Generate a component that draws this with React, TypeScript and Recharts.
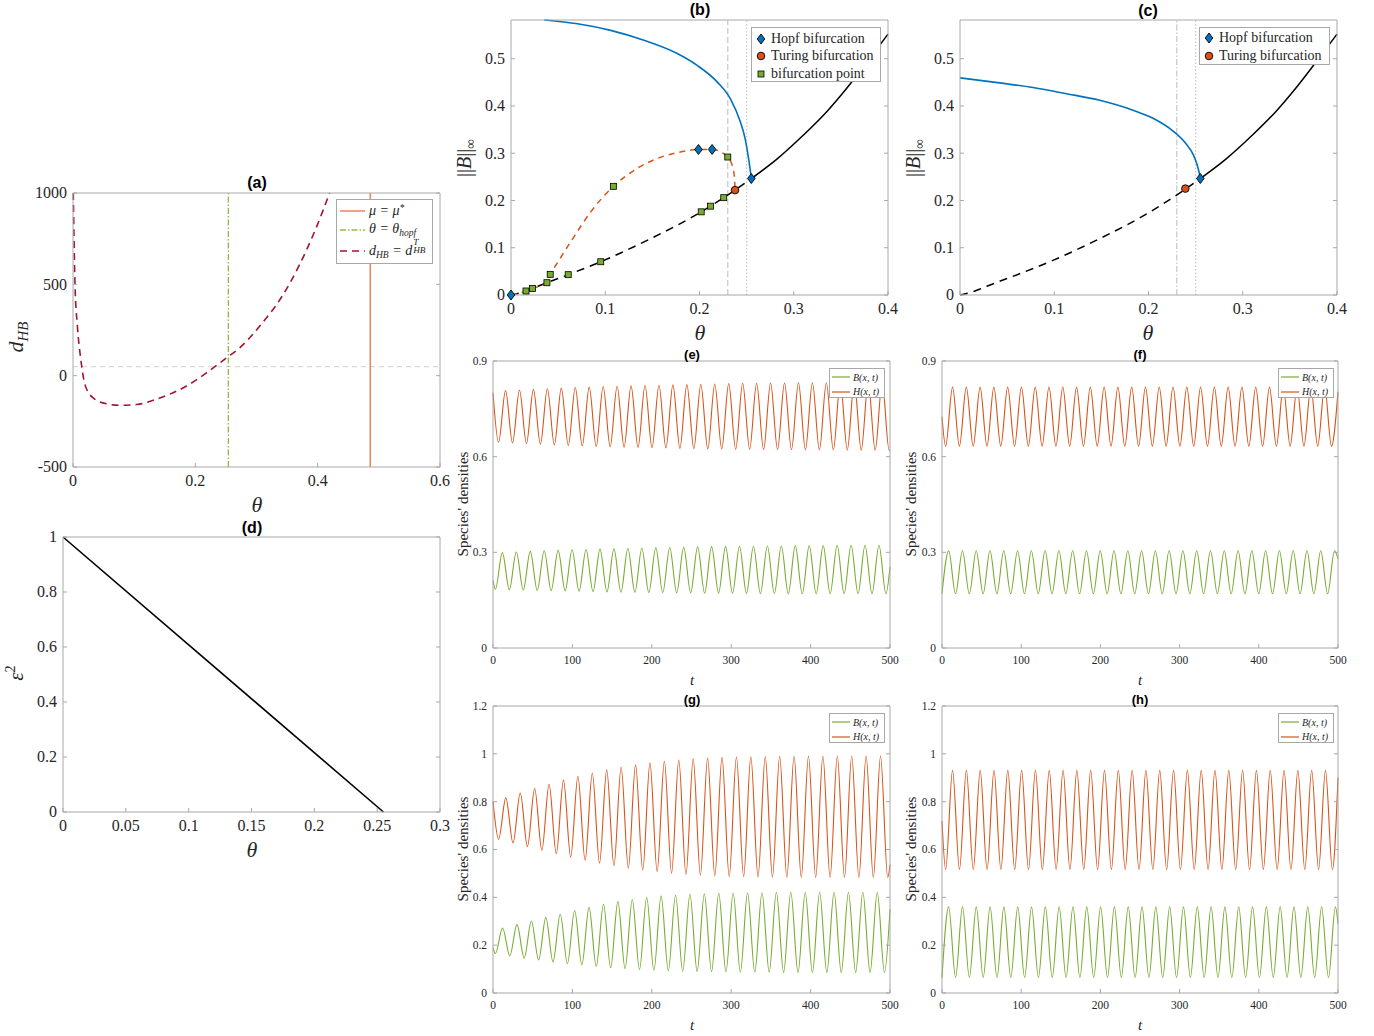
import React from 'react';
import { LineChart, Line, XAxis, YAxis, ReferenceLine } from 'recharts';

type Pt = [number, number];
type Box = { x0: number; y0: number; x1: number; y1: number };

const SERIF = 'Liberation Serif, DejaVu Serif, serif';
const SANS = 'Liberation Sans, Arial, sans-serif';
const FRAME = '#a8a8a8';
const INK = '#262626';
const BLUE = '#0072BD';
const ORANGE = '#D95319';
const GREEN = '#77AC30';
const CRIMSON = '#A2142F';

// ---------- (a) d_HB against theta ----------
const dHBCurve: Pt[] = [
  [0.0005, 1000], [0.0016, 768], [0.0033, 496], [0.007, 278], [0.0125, 96], [0.0196, -49],
  [0.033, -122], [0.055, -154], [0.0766, -162], [0.104, -158], [0.142, -122], [0.185, -58],
  [0.218, 15], [0.2505, 96], [0.272, 151], [0.305, 270], [0.343, 441], [0.37, 605],
  [0.397, 805], [0.4195, 1000],
];
const thetaHopfA = 0.254;
const thetaMuStar = 0.486;
const dHBThreshold = 50;

// ---------- (b), (c) bifurcation diagrams ----------
const limitCycleB: Pt[] = [
  [0.0353, 0.582], [0.0705, 0.574], [0.1058, 0.56], [0.1411, 0.539], [0.1764, 0.511],
  [0.1975, 0.486], [0.2187, 0.451], [0.2328, 0.415], [0.2434, 0.366], [0.2485, 0.33],
  [0.2516, 0.295], [0.2538, 0.265], [0.255, 0.2465],
];
const turingBranchB: Pt[] = [
  [0, 0], [0.0159, 0.0085], [0.0229, 0.014], [0.0381, 0.026], [0.0416, 0.0437], [0.0476, 0.063],
  [0.0635, 0.113], [0.0847, 0.176], [0.1086, 0.23], [0.134, 0.268], [0.1623, 0.294],
  [0.1834, 0.304], [0.1989, 0.308], [0.2134, 0.308], [0.224, 0.301], [0.23, 0.292],
  [0.2356, 0.268], [0.2374, 0.239], [0.2377, 0.222],
];
const unstableSteady: Pt[] = [
  [0, 0], [0.0159, 0.0085], [0.0229, 0.014], [0.0381, 0.026], [0.0607, 0.043], [0.0952, 0.0704],
  [0.15, 0.121], [0.2018, 0.176], [0.2116, 0.188], [0.2257, 0.206], [0.2377, 0.222], [0.255, 0.2465],
];
const stableSteady: Pt[] = [
  [0.255, 0.2465], [0.2818, 0.287], [0.31, 0.338], [0.335, 0.388], [0.356, 0.437],
  [0.3774, 0.492], [0.4, 0.552],
];
const limitCycleC: Pt[] = [
  [0, 0.4596], [0.0421, 0.449], [0.0775, 0.439], [0.1129, 0.426], [0.1482, 0.412],
  [0.1836, 0.391], [0.2048, 0.374], [0.226, 0.347], [0.2402, 0.319], [0.2475, 0.297],
  [0.2515, 0.276], [0.2538, 0.259], [0.255, 0.2465],
];
const hopfPointsB: Pt[] = [[0, 0], [0.1989, 0.308], [0.2134, 0.308], [0.255, 0.2465]];
const turingPointsB: Pt[] = [[0.2377, 0.222]];
const branchPointsB: Pt[] = [
  [0.0159, 0.0085], [0.0229, 0.014], [0.0381, 0.026], [0.0416, 0.0437], [0.0607, 0.043],
  [0.0952, 0.0704], [0.1086, 0.23], [0.2018, 0.176], [0.2116, 0.188], [0.2257, 0.206], [0.23, 0.292],
];
const hopfPointsC: Pt[] = [[0.255, 0.2465]];
const turingPointsC: Pt[] = [[0.2391, 0.2252]];
const thetaDashed = 0.23;
const thetaDotted = 0.25;

// ---------- (d) epsilon^2 ----------
const eps2Line: Pt[] = [[0, 1], [0.255, 0]];

// ---------- (e)-(h) time series: extrema ----------
const eHTroughs = [0.645, 0.643, 0.641, 0.639, 0.637, 0.635, 0.634, 0.632, 0.631, 0.63, 0.629, 0.628, 0.627, 0.626, 0.625, 0.624, 0.624, 0.623, 0.623, 0.622, 0.622, 0.622, 0.621, 0.621, 0.621, 0.621, 0.62, 0.62, 0.62];
const eHPeaks = [0.807, 0.809, 0.811, 0.813, 0.815, 0.817, 0.818, 0.82, 0.821, 0.822, 0.823, 0.824, 0.825, 0.826, 0.827, 0.828, 0.829, 0.83, 0.83, 0.831, 0.831, 0.832, 0.832, 0.832, 0.833, 0.833, 0.833, 0.833];
const eBTroughs = [0.184, 0.183, 0.182, 0.181, 0.18, 0.179, 0.178, 0.177, 0.176, 0.175, 0.175, 0.174, 0.174, 0.173, 0.173, 0.172, 0.172, 0.172, 0.171, 0.171, 0.171, 0.17, 0.17, 0.17, 0.17, 0.17, 0.17, 0.17, 0.17];
const eBPeaks = [0.299, 0.301, 0.303, 0.305, 0.306, 0.308, 0.309, 0.31, 0.311, 0.312, 0.313, 0.314, 0.315, 0.316, 0.317, 0.318, 0.318, 0.319, 0.319, 0.32, 0.32, 0.321, 0.321, 0.321, 0.322, 0.322, 0.322, 0.322];

const fHTroughs = [0.633, 0.633, 0.633, 0.633, 0.633, 0.633, 0.633, 0.633, 0.633, 0.633, 0.633, 0.633, 0.633, 0.633, 0.633, 0.633, 0.633, 0.633, 0.633, 0.633, 0.633, 0.633, 0.633, 0.633, 0.633, 0.633, 0.633, 0.633, 0.633];
const fHPeaks = [0.818, 0.818, 0.818, 0.818, 0.818, 0.818, 0.818, 0.818, 0.818, 0.818, 0.818, 0.818, 0.818, 0.818, 0.818, 0.818, 0.818, 0.818, 0.818, 0.818, 0.818, 0.818, 0.818, 0.818, 0.818, 0.818, 0.818, 0.818];
const fBPeaks = [0.305, 0.305, 0.305, 0.305, 0.305, 0.305, 0.305, 0.305, 0.305, 0.305, 0.305, 0.305, 0.305, 0.305, 0.305, 0.305, 0.305, 0.305, 0.305, 0.305, 0.305, 0.305, 0.305, 0.305, 0.305, 0.305, 0.305, 0.305, 0.305];
const fBTroughs = [0.17, 0.17, 0.17, 0.17, 0.17, 0.17, 0.17, 0.17, 0.17, 0.17, 0.17, 0.17, 0.17, 0.17, 0.17, 0.17, 0.17, 0.17, 0.17, 0.17, 0.17, 0.17, 0.17, 0.17, 0.17, 0.17, 0.17, 0.17];

const gHTroughs = [0.643, 0.627, 0.612, 0.597, 0.582, 0.568, 0.555, 0.543, 0.532, 0.522, 0.514, 0.507, 0.501, 0.496, 0.492, 0.489, 0.487, 0.486, 0.485, 0.484, 0.484, 0.483, 0.483, 0.483, 0.483, 0.483, 0.483, 0.483];
const gHPeaks = [0.816, 0.836, 0.855, 0.873, 0.89, 0.906, 0.92, 0.933, 0.944, 0.954, 0.962, 0.969, 0.974, 0.978, 0.982, 0.985, 0.987, 0.988, 0.989, 0.99, 0.99, 0.991, 0.991, 0.991, 0.991, 0.991, 0.991];
const gBTroughs = [0.165, 0.155, 0.146, 0.138, 0.13, 0.123, 0.117, 0.111, 0.106, 0.102, 0.098, 0.095, 0.093, 0.091, 0.09, 0.089, 0.088, 0.087, 0.087, 0.087, 0.086, 0.086, 0.086, 0.086, 0.086, 0.086, 0.086, 0.086];
const gBPeaks = [0.272, 0.286, 0.301, 0.315, 0.329, 0.345, 0.358, 0.371, 0.382, 0.391, 0.399, 0.405, 0.409, 0.413, 0.415, 0.417, 0.418, 0.419, 0.42, 0.421, 0.421, 0.421, 0.421, 0.421, 0.421, 0.421, 0.421];

const hHTroughs = [0.516, 0.516, 0.516, 0.516, 0.516, 0.516, 0.516, 0.516, 0.516, 0.516, 0.516, 0.516, 0.516, 0.516, 0.516, 0.516, 0.516, 0.516, 0.516, 0.516, 0.516, 0.516, 0.516, 0.516, 0.516, 0.516, 0.516, 0.516, 0.516];
const hHPeaks = [0.931, 0.931, 0.931, 0.931, 0.931, 0.931, 0.931, 0.931, 0.931, 0.931, 0.931, 0.931, 0.931, 0.931, 0.931, 0.931, 0.931, 0.931, 0.931, 0.931, 0.931, 0.931, 0.931, 0.931, 0.931, 0.931, 0.931, 0.931];
const hBPeaks = [0.36, 0.36, 0.36, 0.36, 0.36, 0.36, 0.36, 0.36, 0.36, 0.36, 0.36, 0.36, 0.36, 0.36, 0.36, 0.36, 0.36, 0.36, 0.36, 0.36, 0.36, 0.36, 0.36, 0.36, 0.36, 0.36, 0.36, 0.36, 0.36];
const hBTroughs = [0.065, 0.065, 0.065, 0.065, 0.065, 0.065, 0.065, 0.065, 0.065, 0.065, 0.065, 0.065, 0.065, 0.065, 0.065, 0.065, 0.065, 0.065, 0.065, 0.065, 0.065, 0.065, 0.065, 0.065, 0.065, 0.065, 0.065, 0.065];

const toXY = (pts: Pt[]) => pts.map(([x, y]) => ({ x, y }));

// alternate the read extrema on the oscillation's time grid
const wave = (start: number, firstT: number, half: number, peaks: number[], troughs: number[], firstIsPeak: boolean, end: number) => {
  const pts: { x: number; y: number }[] = [{ x: 0, y: start }];
  let p = 0;
  let q = 0;
  const n = peaks.length + troughs.length;
  for (let i = 0; i < n; i++) {
    const isPeak = (i % 2 === 0) === firstIsPeak;
    pts.push({ x: firstT + i * half, y: isPeak ? peaks[p++] : troughs[q++] });
  }
  pts.push({ x: 500, y: end });
  return pts;
};

const eH = wave(0.8, 7, 8.784, eHPeaks, eHTroughs, false, 0.62);
const eB = wave(0.212, 3, 8.784, eBPeaks, eBTroughs, false, 0.255);
const fH = wave(0.725, 4.6, 8.7, fHPeaks, fHTroughs, false, 0.804);
const fB = wave(0.17, 8.4, 8.7, fBPeaks, fBTroughs, true, 0.28);
const gH = wave(0.8, 7.1, 9.075, gHPeaks, gHTroughs, false, 0.535);
const gB = wave(0.19, 3, 9.075, gBPeaks, gBTroughs, false, 0.35);
const hH = wave(0.719, 4.6, 8.72, hHPeaks, hHTroughs, false, 0.9);
const hB = wave(0.064, 8.4, 8.72, hBPeaks, hBTroughs, true, 0.29);

const tTicks = [0, 100, 200, 300, 400, 500];

// ---------- layout ----------
const PL = 60, PT = 12, PR = 12, PB = 40;

const boxA: Box = { x0: 73, y0: 193, x1: 440, y1: 467 };
const boxB: Box = { x0: 511, y0: 20, x1: 888, y1: 295 };
const boxC: Box = { x0: 960, y0: 20, x1: 1337, y1: 295 };
const boxD: Box = { x0: 63, y0: 537, x1: 440, y1: 812 };
const boxE: Box = { x0: 493, y0: 361, x1: 890, y1: 648 };
const boxF: Box = { x0: 942, y0: 361, x1: 1338, y1: 648 };
const boxG: Box = { x0: 493, y0: 706, x1: 890, y1: 993 };
const boxH: Box = { x0: 942, y0: 706, x1: 1338, y1: 993 };

const blank = () => '';

const serifTick = (fontSize: number, dy: string) => (p: any) => (
  <text x={p.x} y={p.y} textAnchor={p.textAnchor} dy={dy} fill={INK}
    style={{ fontFamily: SERIF, fontSize }}>
    {String(p.payload.value)}
  </text>
);

function Panel(props: {
  box: Box; xDomain: [number, number]; yDomain: [number, number];
  xTicks: number[]; yTicks: number[]; fontSize: number; children: React.ReactNode;
}) {
  const { box, xDomain, yDomain, xTicks, yTicks, fontSize, children } = props;
  const w = box.x1 - box.x0 + PL + PR;
  const h = box.y1 - box.y0 + PT + PB;
  return (
    <div style={{ position: 'absolute', left: box.x0 - PL, top: box.y0 - PT, fontFamily: SERIF }}>
      <LineChart width={w} height={h} margin={{ top: PT - 1, right: PR - 1, bottom: 0, left: 0 }}>
        <XAxis type="number" dataKey="x" domain={xDomain} ticks={xTicks} interval={0} height={PB}
          tick={serifTick(fontSize, '0.71em')} tickSize={-4} tickMargin={12} stroke={FRAME} />
        <XAxis xAxisId="top" orientation="top" type="number" domain={xDomain} ticks={xTicks} interval={0}
          height={1} allowDataOverflow tickFormatter={blank} tickSize={-4} stroke={FRAME} />
        <YAxis type="number" domain={yDomain} ticks={yTicks} interval={0} width={PL}
          tick={serifTick(fontSize, '0.34em')} tickSize={-4} tickMargin={10} stroke={FRAME} />
        <YAxis yAxisId="right" orientation="right" type="number" domain={yDomain} ticks={yTicks} interval={0}
          width={1} allowDataOverflow tickFormatter={blank} tickSize={-4} stroke={FRAME} />
        {children}
      </LineChart>
    </div>
  );
}

const Diamond = (p: any) => (
  <polygon key={`d${p.index}`} points={`${p.cx},${p.cy - 5} ${p.cx + 3.8},${p.cy} ${p.cx},${p.cy + 5} ${p.cx - 3.8},${p.cy}`}
    fill={BLUE} stroke="#000" strokeWidth={0.9} />
);
const Circle = (p: any) => (
  <circle key={`c${p.index}`} cx={p.cx} cy={p.cy} r={3.8} fill={ORANGE} stroke="#000" strokeWidth={0.9} />
);
const Square = (p: any) => (
  <rect key={`s${p.index}`} x={p.cx - 3} y={p.cy - 3} width={6} height={6} fill={GREEN} stroke="#000" strokeWidth={0.8} />
);

const curve = (data: { x: number; y: number }[], stroke: string, width = 1.5, dash?: string) => (
  <Line data={data} dataKey="y" type="monotone" stroke={stroke} strokeWidth={width} strokeDasharray={dash}
    dot={false} activeDot={false} isAnimationActive={false} />
);
const markers = (data: { x: number; y: number }[], shape: (p: any) => React.ReactElement) => (
  <Line data={data} dataKey="y" stroke="none" strokeWidth={0} dot={shape} activeDot={false} isAnimationActive={false} />
);

// ---------- overlay text ----------
const abs = (left: number, top: number, extra: React.CSSProperties = {}): React.CSSProperties => ({
  position: 'absolute', left, top, transform: 'translate(-50%, -50%)', whiteSpace: 'nowrap', lineHeight: 1, ...extra,
});
const Title = ({ x, y, size, children }: { x: number; y: number; size: number; children: React.ReactNode }) => (
  <div style={abs(x, y, { fontFamily: SANS, fontWeight: 'bold', fontSize: size, color: '#000' })}>{children}</div>
);
const XLabel = ({ x, y, size, children }: { x: number; y: number; size: number; children: React.ReactNode }) => (
  <div style={abs(x, y, { fontFamily: SERIF, fontStyle: 'italic', fontSize: size, color: INK })}>{children}</div>
);
const YLabel = ({ x, y, size, children }: { x: number; y: number; size: number; children: React.ReactNode }) => (
  <div style={{ ...abs(x, y, { fontFamily: SERIF, fontSize: size, color: INK }), transform: 'translate(-50%, -50%) rotate(-90deg)' }}>{children}</div>
);

const LegendBox = ({ left, top, width, height, children }: any) => (
  <div style={{ position: 'absolute', left, top, width, height, boxSizing: 'border-box', border: `1px solid ${FRAME}`, background: '#fff' }}>
    {children}
  </div>
);
const Row = ({ x, y, size, italic, children }: any) => (
  <div style={{ position: 'absolute', left: x, top: y, transform: 'translateY(-50%)', whiteSpace: 'nowrap', lineHeight: 1,
    fontFamily: SERIF, fontSize: size, fontStyle: italic ? 'italic' : 'normal', color: INK }}>{children}</div>
);
const Sample = ({ x, y, w, stroke, dash, width = 1.5 }: any) => (
  <svg style={{ position: 'absolute', left: x, top: y - 3 }} width={w} height={6}>
    <line x1={0} y1={3} x2={w} y2={3} stroke={stroke} strokeWidth={width} strokeDasharray={dash} />
  </svg>
);
const MarkerIcon = ({ x, y, kind }: any) => (
  <svg style={{ position: 'absolute', left: x - 6, top: y - 6 }} width={12} height={12}>
    {kind === 'd' && <polygon points="6,1 9.8,6 6,11 2.2,6" fill={BLUE} stroke="#000" strokeWidth={0.9} />}
    {kind === 'c' && <circle cx={6} cy={6} r={3.8} fill={ORANGE} stroke="#000" strokeWidth={0.9} />}
    {kind === 's' && <rect x={3} y={3} width={6} height={6} fill={GREEN} stroke="#000" strokeWidth={0.8} />}
  </svg>
);

const subStyle: React.CSSProperties = { fontSize: '0.68em', verticalAlign: '-0.3em' };
const supStyle: React.CSSProperties = { fontSize: '0.68em', verticalAlign: '0.5em' };

const WaveLegend = ({ left, top }: { left: number; top: number }) => (
  <LegendBox left={left} top={top} width={56} height={30}>
    <Sample x={2} y={8.3} w={18} stroke={GREEN} width={1.2} />
    <Row x={23} y={8.5} size={10} italic>B(x, t)</Row>
    <Sample x={2} y={22.5} w={18} stroke={ORANGE} width={1.2} />
    <Row x={23} y={22.7} size={10} italic>H(x, t)</Row>
  </LegendBox>
);

export default function App() {
  return (
    <div style={{ position: 'absolute', left: 0, top: 0, width: 1374, height: 1036, background: '#fff', overflow: 'hidden' }}>
      {/* (a) */}
      <Panel box={boxA} xDomain={[0, 0.6]} yDomain={[-500, 1000]} xTicks={[0, 0.2, 0.4, 0.6]} yTicks={[-500, 0, 500, 1000]} fontSize={16}>
        <ReferenceLine y={dHBThreshold} stroke="#d9d9d9" strokeDasharray="5 4" strokeWidth={1.2} />
        <ReferenceLine x={thetaMuStar} stroke="#E9875C" strokeWidth={1.5} />
        <ReferenceLine x={thetaHopfA} stroke="#8FC04F" strokeWidth={1.4} strokeDasharray="6 2 1.5 2" />
        {curve(toXY(dHBCurve), CRIMSON, 1.6, '7 5')}
      </Panel>

      {/* (b) */}
      <Panel box={boxB} xDomain={[0, 0.4]} yDomain={[0, 0.582]} xTicks={[0, 0.1, 0.2, 0.3, 0.4]} yTicks={[0, 0.1, 0.2, 0.3, 0.4, 0.5]} fontSize={16}>
        <ReferenceLine x={thetaDashed} stroke="#c6c6c6" strokeDasharray="6 3" strokeWidth={1.2} />
        <ReferenceLine x={thetaDotted} stroke="#c6c6c6" strokeDasharray="1.5 2" strokeWidth={1.2} />
        {curve(toXY(limitCycleB), BLUE, 1.6)}
        {curve(toXY(unstableSteady), '#000', 1.5, '8 6')}
        {curve(toXY(turingBranchB), ORANGE, 1.5, '6 5')}
        {curve(toXY(stableSteady), '#000', 1.5)}
        {markers(toXY(branchPointsB), Square)}
        {markers(toXY(turingPointsB), Circle)}
        {markers(toXY(hopfPointsB), Diamond)}
      </Panel>

      {/* (c) */}
      <Panel box={boxC} xDomain={[0, 0.4]} yDomain={[0, 0.582]} xTicks={[0, 0.1, 0.2, 0.3, 0.4]} yTicks={[0, 0.1, 0.2, 0.3, 0.4, 0.5]} fontSize={16}>
        <ReferenceLine x={thetaDashed} stroke="#c6c6c6" strokeDasharray="6 2 1.5 2" strokeWidth={1.2} />
        <ReferenceLine x={thetaDotted} stroke="#c6c6c6" strokeDasharray="1.5 2" strokeWidth={1.2} />
        {curve(toXY(limitCycleC), BLUE, 1.6)}
        {curve(toXY(unstableSteady), '#000', 1.5, '8 6')}
        {curve(toXY(stableSteady), '#000', 1.5)}
        {markers(toXY(turingPointsC), Circle)}
        {markers(toXY(hopfPointsC), Diamond)}
      </Panel>

      {/* (d) */}
      <Panel box={boxD} xDomain={[0, 0.3]} yDomain={[0, 1]} xTicks={[0, 0.05, 0.1, 0.15, 0.2, 0.25, 0.3]} yTicks={[0, 0.2, 0.4, 0.6, 0.8, 1]} fontSize={16}>
        {curve(toXY(eps2Line), '#000', 1.6)}
      </Panel>

      {/* (e)-(h) */}
      <Panel box={boxE} xDomain={[0, 500]} yDomain={[0, 0.9]} xTicks={tTicks} yTicks={[0, 0.3, 0.6, 0.9]} fontSize={11.5}>
        {curve(eB, GREEN, 1.1)}
        {curve(eH, ORANGE, 1.1)}
      </Panel>
      <Panel box={boxF} xDomain={[0, 500]} yDomain={[0, 0.9]} xTicks={tTicks} yTicks={[0, 0.3, 0.6, 0.9]} fontSize={11.5}>
        {curve(fB, GREEN, 1.1)}
        {curve(fH, ORANGE, 1.1)}
      </Panel>
      <Panel box={boxG} xDomain={[0, 500]} yDomain={[0, 1.2]} xTicks={tTicks} yTicks={[0, 0.2, 0.4, 0.6, 0.8, 1, 1.2]} fontSize={11.5}>
        {curve(gB, GREEN, 1.1)}
        {curve(gH, ORANGE, 1.1)}
      </Panel>
      <Panel box={boxH} xDomain={[0, 500]} yDomain={[0, 1.2]} xTicks={tTicks} yTicks={[0, 0.2, 0.4, 0.6, 0.8, 1, 1.2]} fontSize={11.5}>
        {curve(hB, GREEN, 1.1)}
        {curve(hH, ORANGE, 1.1)}
      </Panel>

      {/* titles */}
      <Title x={257} y={183} size={16}>(a)</Title>
      <Title x={700} y={10} size={16}>(b)</Title>
      <Title x={1148} y={11} size={16}>(c)</Title>
      <Title x={252} y={528} size={16}>(d)</Title>
      <Title x={692} y={354} size={13}>(e)</Title>
      <Title x={1140} y={354} size={13}>(f)</Title>
      <Title x={692} y={699} size={13}>(g)</Title>
      <Title x={1140} y={699} size={13}>(h)</Title>

      {/* axis labels */}
      <XLabel x={257} y={505} size={22}>θ</XLabel>
      <XLabel x={700} y={333} size={22}>θ</XLabel>
      <XLabel x={1148} y={333} size={22}>θ</XLabel>
      <XLabel x={252} y={850} size={22}>θ</XLabel>
      <XLabel x={692} y={680} size={15}>t</XLabel>
      <XLabel x={1140} y={680} size={15}>t</XLabel>
      <XLabel x={692} y={1025} size={15}>t</XLabel>
      <XLabel x={1140} y={1025} size={15}>t</XLabel>

      <YLabel x={18} y={337} size={22}><i>d</i><span style={subStyle}><i>HB</i></span></YLabel>
      <YLabel x={466} y={158} size={20}>||<i>B</i>||<span style={subStyle}>∞</span></YLabel>
      <YLabel x={915} y={158} size={20}>||<i>B</i>||<span style={subStyle}>∞</span></YLabel>
      <YLabel x={15} y={673} size={21}><i>ε</i><span style={supStyle}>2</span></YLabel>
      <YLabel x={463} y={504} size={15}>Species' densities</YLabel>
      <YLabel x={911} y={504} size={15}>Species' densities</YLabel>
      <YLabel x={463} y={849} size={15}>Species' densities</YLabel>
      <YLabel x={911} y={849} size={15}>Species' densities</YLabel>

      {/* legend (a) */}
      <LegendBox left={336} top={199} width={97} height={65}>
        <Sample x={3} y={11} w={25} stroke="#E9875C" />
        <Row x={32} y={11} size={14} italic>μ = μ<span style={supStyle}>*</span></Row>
        <Sample x={3} y={29.5} w={25} stroke="#8FC04F" dash="6 2 1.5 2" width={1.4} />
        <Row x={32} y={29.5} size={14} italic>θ = θ<span style={subStyle}>hopf</span></Row>
        <Sample x={3} y={51} w={25} stroke={CRIMSON} dash="7 5" width={1.6} />
        <Row x={32} y={51} size={14} italic>
          d<span style={subStyle}>HB</span> = d
          <span style={{ position: 'relative', display: 'inline-block', width: '1.3em', height: '1em' }}>
            <span style={{ position: 'absolute', left: 1, top: '-0.3em', fontSize: '0.66em' }}>T</span>
            <span style={{ position: 'absolute', left: 1, top: '0.5em', fontSize: '0.66em' }}>HB</span>
          </span>
        </Row>
      </LegendBox>

      {/* legend (b) */}
      <LegendBox left={751} top={27} width={130} height={55}>
        <MarkerIcon x={9} y={10.5} kind="d" />
        <Row x={19} y={10.5} size={14}>Hopf bifurcation</Row>
        <MarkerIcon x={9} y={28} kind="c" />
        <Row x={19} y={28} size={14}>Turing bifurcation</Row>
        <MarkerIcon x={9} y={45.5} kind="s" />
        <Row x={19} y={45.5} size={14}>bifurcation point</Row>
      </LegendBox>

      {/* legend (c) */}
      <LegendBox left={1199} top={27} width={131} height={38}>
        <MarkerIcon x={9} y={10} kind="d" />
        <Row x={19} y={10} size={14}>Hopf bifurcation</Row>
        <MarkerIcon x={9} y={27.5} kind="c" />
        <Row x={19} y={27.5} size={14}>Turing bifurcation</Row>
      </LegendBox>

      <WaveLegend left={829} top={368} />
      <WaveLegend left={1278} top={368} />
      <WaveLegend left={829} top={713} />
      <WaveLegend left={1278} top={713} />
    </div>
  );
}
